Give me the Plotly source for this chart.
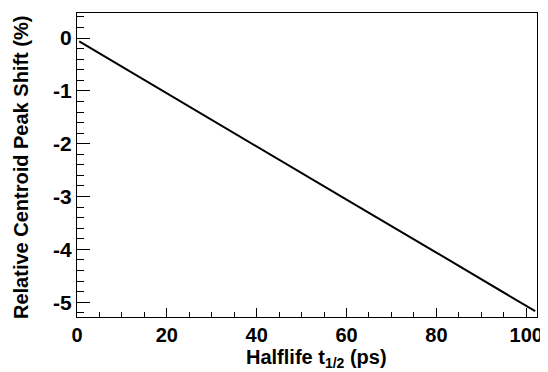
import plotly.graph_objects as go

halflife_ps = [0.5, 20, 40, 60, 80, 102]
peak_shift_pct = [-0.065, -1.05, -2.05, -3.06, -4.06, -5.17]

x_ticks = [0, 20, 40, 60, 80, 100]
y_ticks = [0, -1, -2, -3, -4, -5]

FONT = "Liberation Sans, Arial, Helvetica, sans-serif"

# the page body adds an 8px offset; compensate so the figure fills 548x372
fig = go.Figure()
fig.add_trace(go.Scatter(x=halflife_ps, y=peak_shift_pct, mode="lines",
                         line=dict(color="black", width=2), showlegend=False))

fig.update_layout(
    width=540, height=364,
    margin=dict(l=69, r=11, t=5, b=55),
    paper_bgcolor="white", plot_bgcolor="white",
    font=dict(family=FONT, color="black"),
)
fig.update_xaxes(
    range=[0, 102.4], tickvals=x_ticks, ticktext=[f"<b>{v}</b>" for v in x_ticks],
    ticks="inside", ticklen=9, tickwidth=1, tickcolor="black",
    minor=dict(dtick=5, tick0=0, ticks="inside", ticklen=5, tickcolor="black", showgrid=False),
    showline=True, linecolor="black", linewidth=1, mirror=True,
    showgrid=False, zeroline=False, automargin=False,
    tickfont=dict(family=FONT, size=20, color="black"),
)
fig.update_yaxes(
    range=[-5.28, 0.474], tickvals=y_ticks, ticktext=[f"<b>{v}</b>" for v in y_ticks],
    ticks="inside", ticklen=13, tickwidth=1, tickcolor="black",
    minor=dict(dtick=0.2, tick0=0, ticks="inside", ticklen=7, tickcolor="black", showgrid=False),
    showline=True, linecolor="black", linewidth=1, mirror=True,
    showgrid=False, zeroline=False, automargin=False,
    tickfont=dict(family=FONT, size=21, color="black"),
)
fig.add_annotation(text="<b>Halflife t<sub>1/2</sub> (ps)</b>", xref="paper", yref="paper",
                   x=0.52, y=-0.137, xanchor="center", yanchor="middle", showarrow=False,
                   font=dict(family=FONT, size=20, color="black"))
fig.add_annotation(text="<b>Relative Centroid Peak Shift (%)</b>", xref="paper", yref="paper",
                   x=-0.122, y=0.493, xanchor="center", yanchor="middle", showarrow=False,
                   textangle=-90, font=dict(family=FONT, size=20, color="black"))

fig.write_html("out.html")
